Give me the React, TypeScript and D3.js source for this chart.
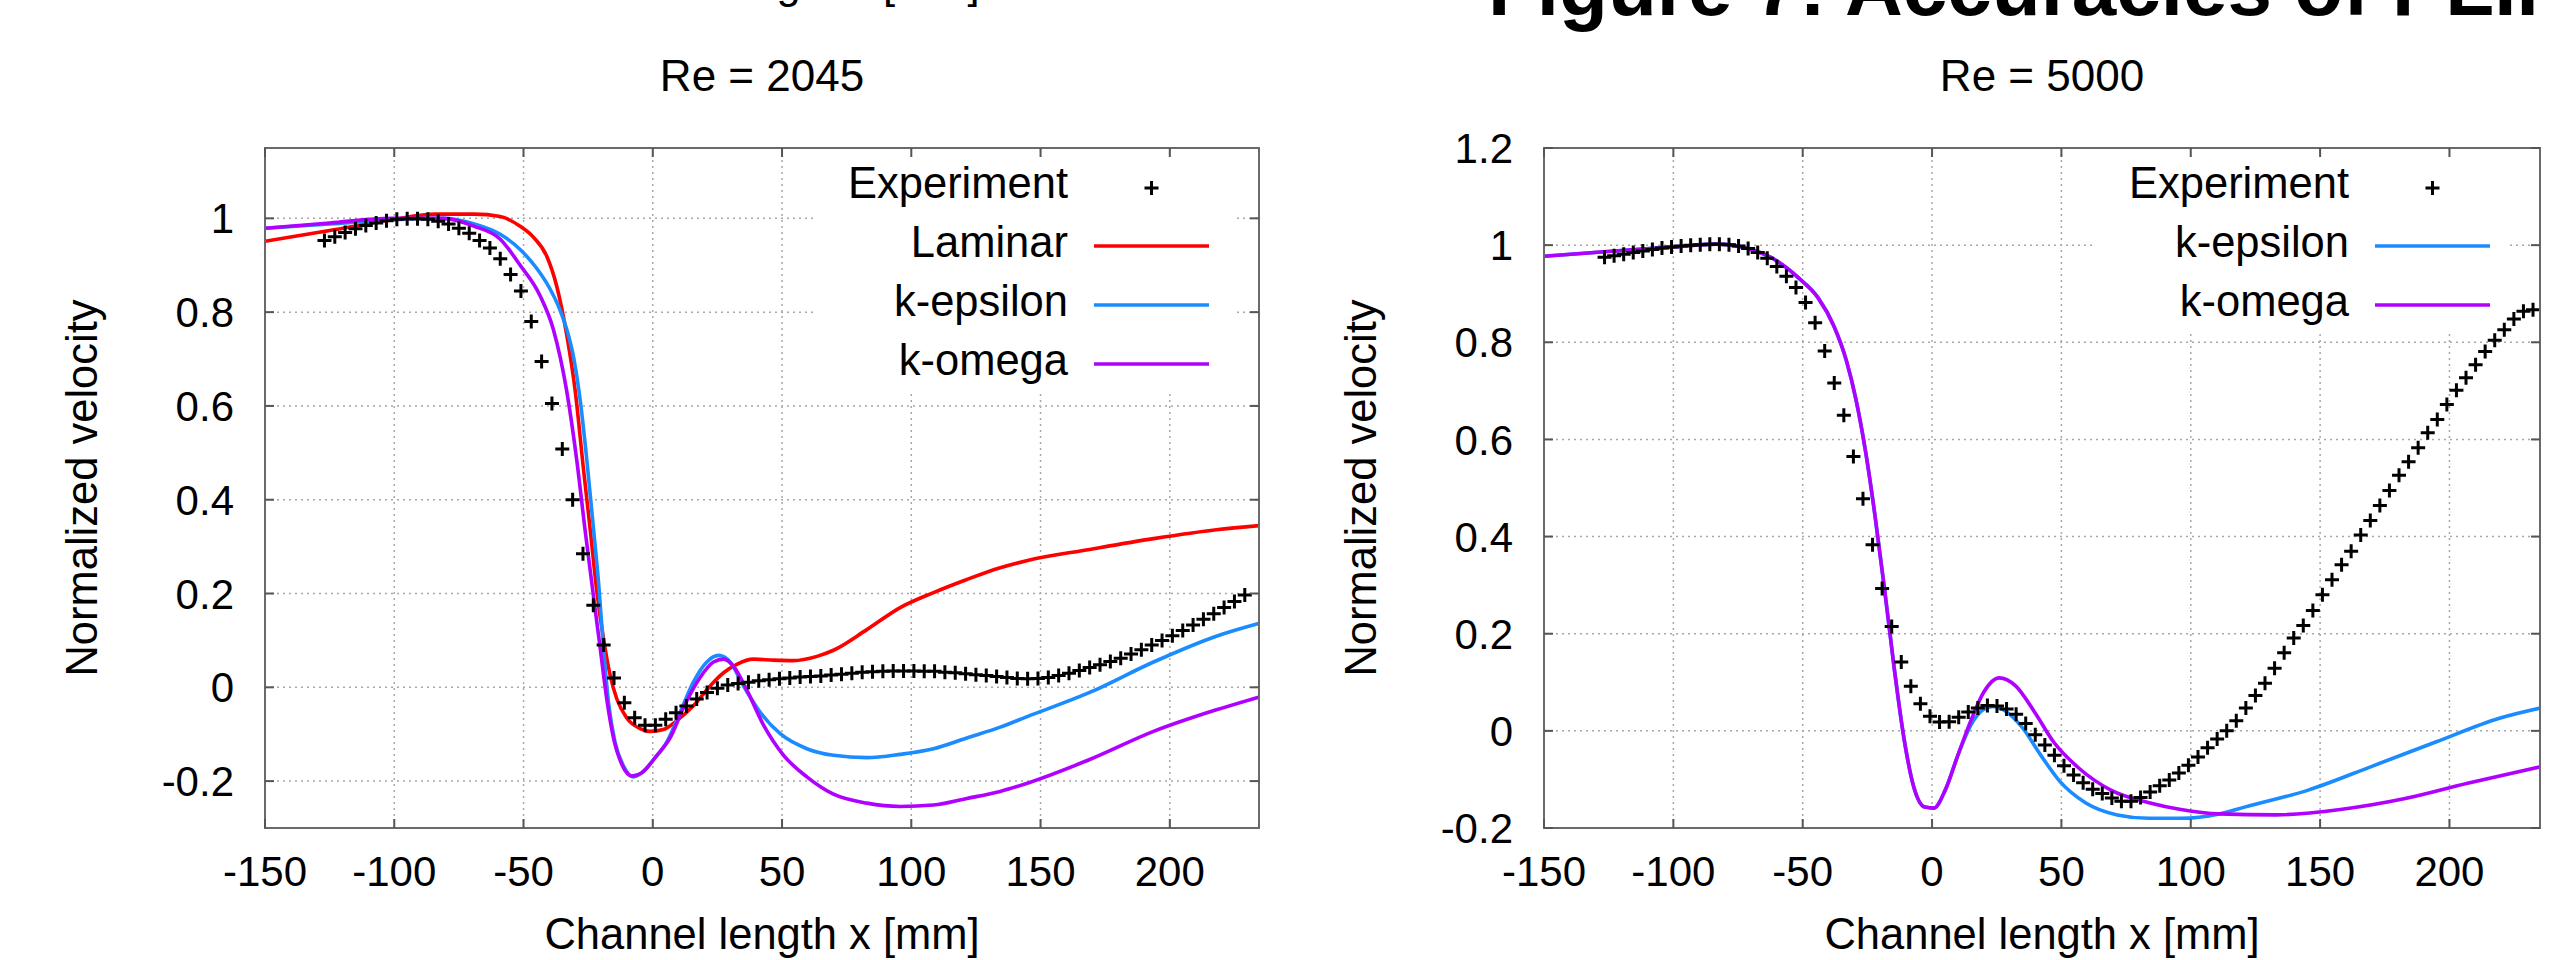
import React from 'react';
import * as d3 from 'd3';

// ---------- tick labels ----------
const xTicks = [-150, -100, -50, 0, 50, 100, 150, 200];
const yTicksA = [-0.2, 0, 0.2, 0.4, 0.6, 0.8, 1];
const yTicksB = [-0.2, 0, 0.2, 0.4, 0.6, 0.8, 1, 1.2];

// ---------- Re = 2045 ----------
const expAx = [-127, -123, -119, -115, -111, -107, -103, -99, -95, -91, -87, -83, -79, -75, -71, -67, -63, -59, -55, -51, -47, -43, -39, -35, -31, -27, -23, -19, -15, -11, -7, -3, 1, 5, 9, 13, 17, 21, 25, 29, 33, 37, 41, 45, 49, 53, 57, 61, 65, 69, 73, 77, 81, 85, 89, 93, 97, 101, 105, 109, 113, 117, 121, 125, 129, 133, 137, 141, 145, 149, 153, 157, 161, 165, 169, 173, 177, 181, 185, 189, 193, 197, 201, 205, 209, 213, 217, 221, 225, 229];
const expAy = [0.953, 0.961, 0.970, 0.978, 0.985, 0.990, 0.995, 0.998, 0.999, 0.999, 0.998, 0.994, 0.988, 0.979, 0.968, 0.953, 0.937, 0.914, 0.880, 0.845, 0.780, 0.695, 0.605, 0.508, 0.400, 0.285, 0.175, 0.090, 0.020, -0.033, -0.065, -0.081, -0.081, -0.068, -0.054, -0.040, -0.025, -0.011, -0.002, 0.005, 0.008, 0.011, 0.014, 0.016, 0.018, 0.020, 0.022, 0.023, 0.024, 0.026, 0.028, 0.030, 0.032, 0.033, 0.034, 0.035, 0.035, 0.035, 0.034, 0.034, 0.032, 0.031, 0.029, 0.027, 0.025, 0.023, 0.021, 0.019, 0.018, 0.019, 0.021, 0.025, 0.030, 0.036, 0.042, 0.048, 0.055, 0.062, 0.071, 0.080, 0.090, 0.100, 0.110, 0.121, 0.133, 0.145, 0.157, 0.170, 0.183, 0.197];

const lamAx = [-150, -125, -101, -84, -69, -59, -51.3, -46.2, -41, -37.1, -33.3, -30, -26.8, -24.2, -21.7, -19.1, -16.5, -13.9, -10, -4.9, -1, 4.1, 9.3, 15.8, 22.2, 27.4, 32.5, 39, 46.7, 54.4, 63.5, 69.9, 82.8, 95.7, 108.6, 121.5, 134.4, 144.6, 169, 193.7, 218, 235];
const lamAy = [0.951, 0.974, 0.997, 1.009, 1.009, 1.004, 0.983, 0.96, 0.919, 0.854, 0.752, 0.632, 0.465, 0.336, 0.207, 0.105, 0.026, -0.025, -0.066, -0.088, -0.094, -0.09, -0.071, -0.039, 0.003, 0.031, 0.049, 0.06, 0.058, 0.057, 0.066, 0.079, 0.123, 0.17, 0.202, 0.23, 0.255, 0.27, 0.294, 0.317, 0.336, 0.345];

const kepsAx = [-150, -125, -101, -81, -69, -59, -51, -45, -40, -36, -33, -30.5, -28.1, -25.5, -22.9, -21, -19.1, -17.1, -14.6, -11.3, -7.5, -4.2, 0.3, 5.4, 10.6, 15.8, 20.9, 25.4, 29.9, 35.1, 41.5, 49.3, 59.6, 69.9, 82.8, 95.7, 108.6, 121.5, 134.4, 144.6, 169, 193.7, 218, 235];
const kepsAy = [0.979, 0.988, 0.997, 1.0, 0.988, 0.966, 0.932, 0.894, 0.852, 0.806, 0.758, 0.700, 0.613, 0.484, 0.336, 0.225, 0.086, -0.034, -0.117, -0.168, -0.191, -0.182, -0.154, -0.117, -0.053, 0.012, 0.054, 0.068, 0.054, 0.003, -0.053, -0.099, -0.131, -0.145, -0.15, -0.143, -0.131, -0.108, -0.085, -0.063, -0.011, 0.054, 0.109, 0.137];

const komAx = [-150, -125, -101, -81, -69, -59.1, -51.3, -43.6, -38.4, -33.3, -29.4, -26.2, -23, -20.4, -17.8, -15.2, -12, -8.1, -4.2, 1.6, 6.7, 11.9, 18.3, 23.5, 27.4, 31.2, 36.4, 42.8, 50.6, 59.6, 69.9, 82.8, 95.7, 108.6, 121.5, 134.4, 144.6, 169, 193.7, 218, 235];
const komAy = [0.979, 0.99, 1.0, 1.0, 0.983, 0.956, 0.9, 0.835, 0.762, 0.632, 0.484, 0.336, 0.197, 0.086, -0.025, -0.108, -0.164, -0.189, -0.182, -0.145, -0.108, -0.043, 0.021, 0.054, 0.06, 0.045, -0.006, -0.08, -0.145, -0.191, -0.228, -0.247, -0.254, -0.251, -0.237, -0.222, -0.205, -0.154, -0.094, -0.048, -0.02];

// ---------- Re = 5000 ----------
const expBx = [-126.6, -122.9, -119.2, -115.5, -111.8, -108.1, -104.4, -100.7, -97.0, -93.3, -89.6, -85.9, -82.2, -78.5, -74.8, -71.1, -67.4, -63.7, -60.0, -56.3, -52.6, -48.9, -45.2, -41.5, -37.8, -34.1, -30.4, -26.7, -23.0, -19.3, -15.6, -11.9, -8.2, -4.5, -0.8, 2.9, 6.6, 10.3, 14.0, 17.7, 21.4, 25.1, 28.8, 32.5, 36.2, 39.9, 43.6, 47.3, 51.0, 54.7, 58.4, 62.1, 65.8, 69.5, 73.2, 76.9, 80.6, 84.3, 88.0, 91.7, 95.4, 99.1, 102.8, 106.5, 110.2, 113.9, 117.6, 121.3, 125.0, 128.7, 132.4, 136.1, 139.8, 143.5, 147.2, 150.9, 154.6, 158.3, 162.0, 165.7, 169.4, 173.1, 176.8, 180.5, 184.2, 187.9, 191.6, 195.3, 199.0, 202.7, 206.4, 210.1, 213.8, 217.5, 221.2, 224.9, 228.6, 232.3];
const expBy = [0.975, 0.978, 0.981, 0.985, 0.988, 0.991, 0.994, 0.996, 0.998, 1.000, 1.001, 1.002, 1.002, 1.001, 0.998, 0.993, 0.985, 0.973, 0.956, 0.936, 0.913, 0.882, 0.840, 0.782, 0.716, 0.650, 0.565, 0.478, 0.383, 0.293, 0.215, 0.142, 0.092, 0.056, 0.030, 0.018, 0.019, 0.028, 0.039, 0.047, 0.052, 0.051, 0.045, 0.034, 0.015, -0.008, -0.029, -0.050, -0.072, -0.091, -0.107, -0.120, -0.129, -0.138, -0.145, -0.145, -0.137, -0.126, -0.113, -0.101, -0.087, -0.071, -0.054, -0.035, -0.017, 0.000, 0.021, 0.047, 0.073, 0.098, 0.129, 0.161, 0.191, 0.217, 0.248, 0.280, 0.311, 0.342, 0.370, 0.403, 0.433, 0.464, 0.495, 0.526, 0.554, 0.583, 0.614, 0.641, 0.672, 0.701, 0.727, 0.754, 0.781, 0.804, 0.826, 0.848, 0.864, 0.867];

const kepsBx = [-150, -125.4, -100.8, -83.5, -71.2, -61.4, -51.5, -44.1, -38, -33.1, -29.4, -25.7, -22, -18.3, -14.6, -10.9, -7.2, -2.8, 0.7, 5.1, 10, 15, 19.9, 23.6, 27.3, 34.7, 42, 49.4, 59.3, 71.6, 83.9, 96.2, 111, 120.8, 145.4, 170, 194.7, 219.3, 236];
const kepsBy = [0.977, 0.987, 0.996, 1.002, 0.993, 0.972, 0.932, 0.892, 0.834, 0.762, 0.682, 0.575, 0.441, 0.289, 0.128, -0.014, -0.113, -0.157, -0.159, -0.122, -0.05, 0.012, 0.044, 0.05, 0.044, 0.008, -0.05, -0.104, -0.148, -0.173, -0.18, -0.18, -0.171, -0.157, -0.122, -0.073, -0.023, 0.026, 0.048];

const komBx = [-150, -125.4, -100.8, -83.5, -71.2, -61.4, -51.5, -44.1, -38, -33.1, -29.4, -25.7, -22, -18.3, -14.6, -10.9, -7.2, -2.8, 0.7, 5.1, 10, 15, 19.9, 26, 32.2, 39.6, 47, 56.8, 69.1, 83.9, 96.2, 111, 133.1, 157.8, 182.4, 207, 236];
const komBy = [0.977, 0.987, 0.996, 1.002, 0.993, 0.972, 0.932, 0.892, 0.834, 0.762, 0.682, 0.575, 0.441, 0.289, 0.128, -0.014, -0.113, -0.157, -0.159, -0.122, -0.05, 0.021, 0.079, 0.109, 0.093, 0.039, -0.023, -0.077, -0.122, -0.148, -0.162, -0.171, -0.173, -0.162, -0.14, -0.108, -0.073];

const RED = '#ff0000';
const BLUE = '#1a8cff';
const PURPLE = '#b000ff';
const FONT = '"Liberation Sans", Arial, Helvetica, sans-serif';

type Series = { name: string; color: string; xs: number[]; ys: number[] };

type PanelProps = {
  id: string;
  x0: number; x1: number; y0: number; y1: number;
  xDomain: [number, number];
  yDomain: [number, number];
  yTicks: number[];
  title: string;
  expX: number[]; expY: number[];
  series: Series[];
  legendBox: { left: number; right: number; bottom: number };
};

function Panel(p: PanelProps) {
  const xs = d3.scaleLinear().domain(p.xDomain).range([p.x0, p.x1]);
  const ys = d3.scaleLinear().domain(p.yDomain).range([p.y1, p.y0]);
  const cx = (p.x0 + p.x1) / 2;
  const cy = (p.y0 + p.y1) / 2;
  const tick = 9;
  const gridColor = '#a8a8a8';
  const lineGen = (s: Series) =>
    d3.line<number>()
      .x((_, i) => xs(s.xs[i]))
      .y((_, i) => ys(s.ys[i]))
      .curve(d3.curveMonotoneX)(s.ys) || '';

  const legendTextRight = p.x1 - 191;
  const legendLineA = p.x1 - 165;
  const legendLineB = p.x1 - 50;
  const legendMarkerX = (legendLineA + legendLineB) / 2;
  const plus = (x: number, y: number, k: string) => (
    <path key={k} d={`M${x - 7},${y}H${x + 7}M${x},${y - 7}V${y + 7}`} stroke="#000" strokeWidth={3} fill="none" />
  );

  return (
    <g fontFamily={FONT}>
      <defs>
        <clipPath id={`clip-${p.id}`}>
          <rect x={p.x0} y={p.y0} width={p.x1 - p.x0} height={p.y1 - p.y0} />
        </clipPath>
      </defs>
      {/* title */}
      <text x={cx} y={91} fontSize={44} textAnchor="middle" fill="#000">{p.title}</text>
      {/* grid */}
      {xTicks.filter(t => xs(t) > p.x0 + 1 && xs(t) < p.x1 - 1).map(t => (
        <line key={`gx${t}`} x1={xs(t)} x2={xs(t)} y1={p.y0} y2={p.y1} stroke={gridColor} strokeWidth={1.5} strokeDasharray="2,4" />
      ))}
      {p.yTicks.filter(t => ys(t) > p.y0 + 1 && ys(t) < p.y1 - 1).map(t => (
        <line key={`gy${t}`} x1={p.x0} x2={p.x1} y1={ys(t)} y2={ys(t)} stroke={gridColor} strokeWidth={1.5} strokeDasharray="2,4" />
      ))}
      {/* legend background */}
      <rect x={p.legendBox.left} y={p.y0 + 2} width={p.legendBox.right - p.legendBox.left} height={p.legendBox.bottom - p.y0 - 2} fill="#fff" />
      {/* data */}
      <g clipPath={`url(#clip-${p.id})`}>
        {p.series.map(s => (
          <path key={s.name} d={lineGen(s)} fill="none" stroke={s.color} strokeWidth={3.6} strokeLinejoin="round" />
        ))}
        {p.expX.map((x, i) => plus(xs(x), ys(p.expY[i]), `e${i}`))}
      </g>
      {/* frame */}
      <rect x={p.x0} y={p.y0} width={p.x1 - p.x0} height={p.y1 - p.y0} fill="none" stroke="#6a6a6a" strokeWidth={2} />
      {/* ticks */}
      {xTicks.map(t => (
        <g key={`tx${t}`}>
          <line x1={xs(t)} x2={xs(t)} y1={p.y1} y2={p.y1 - tick} stroke="#555" strokeWidth={2} />
          <line x1={xs(t)} x2={xs(t)} y1={p.y0} y2={p.y0 + tick} stroke="#555" strokeWidth={2} />
          <text x={xs(t)} y={886} fontSize={42} textAnchor="middle" fill="#000">{String(t)}</text>
        </g>
      ))}
      {p.yTicks.map(t => (
        <g key={`ty${t}`}>
          <line x1={p.x0} x2={p.x0 + tick} y1={ys(t)} y2={ys(t)} stroke="#555" strokeWidth={2} />
          <line x1={p.x1} x2={p.x1 - tick} y1={ys(t)} y2={ys(t)} stroke="#555" strokeWidth={2} />
          <text x={p.x0 - 31} y={ys(t)} dy="0.36em" fontSize={42} textAnchor="end" fill="#000">{String(t)}</text>
        </g>
      ))}
      {/* axis titles */}
      <text x={cx} y={949} fontSize={43.5} textAnchor="middle" fill="#000">Channel length x [mm]</text>
      <text transform={`translate(${p.x0 - 168},${cy}) rotate(-90)`} fontSize={43.5} textAnchor="middle" fill="#000">Normalized velocity</text>
      {/* legend */}
      <text x={legendTextRight} y={198} fontSize={43.5} textAnchor="end" fill="#000">Experiment</text>
      {plus(legendMarkerX, 188, 'lgm')}
      {p.series.map((s, i) => {
        const by = 198 + 59 * (i + 1);
        return (
          <g key={`lg${s.name}`}>
            <text x={legendTextRight} y={by} fontSize={43.5} textAnchor="end" fill="#000">{s.name}</text>
            <line x1={legendLineA} x2={legendLineB} y1={by - 11} y2={by - 11} stroke={s.color} strokeWidth={3.6} />
          </g>
        );
      })}
    </g>
  );
}

export default function App() {
  const seriesA: Series[] = [
    { name: 'Laminar', color: RED, xs: lamAx, ys: lamAy },
    { name: 'k-epsilon', color: BLUE, xs: kepsAx, ys: kepsAy },
    { name: 'k-omega', color: PURPLE, xs: komAx, ys: komAy },
  ];
  const seriesB: Series[] = [
    { name: 'k-epsilon', color: BLUE, xs: kepsBx, ys: kepsBy },
    { name: 'k-omega', color: PURPLE, xs: komBx, ys: komBy },
  ];
  return (
    <svg width={2571} height={960} viewBox="0 0 2571 960" style={{ position: 'absolute', left: 0, top: 0, background: '#fff' }}>
      <rect x={0} y={0} width={2571} height={960} fill="#fff" />
      {/* cut-off text from the content above the charts */}
      <text x={762} y={-2} fontSize={43.5} fontFamily={FONT} textAnchor="middle" fill="#000">Channel length x [mm]</text>
      <text x={1488} y={15} fontSize={80} fontWeight="bold" fontFamily={FONT} fill="#000">Figure 7: Accuracies of PLIF</text>
      <Panel id="a" x0={265} x1={1259} y0={148} y1={828} xDomain={[-150, 234.5]} yDomain={[-0.3, 1.15]} yTicks={yTicksA}
        title="Re = 2045" expX={expAx} expY={expAy} series={seriesA} legendBox={{ left: 814, right: 1233, bottom: 393 }} />
      <Panel id="b" x0={1544} x1={2540} y0={148} y1={828} xDomain={[-150, 235]} yDomain={[-0.2, 1.2]} yTicks={yTicksB}
        title="Re = 5000" expX={expBx} expY={expBy} series={seriesB} legendBox={{ left: 2093, right: 2510, bottom: 334 }} />
    </svg>
  );
}
